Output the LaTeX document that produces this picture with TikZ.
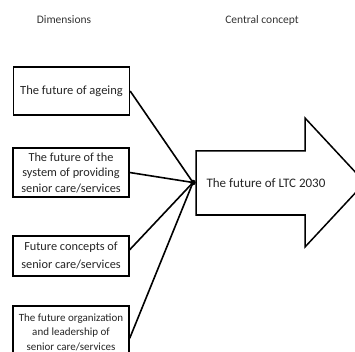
\documentclass[tikz,border=0pt]{standalone}
\usepackage{fontspec}
\setmainfont{Carlito}
\usetikzlibrary{calc}
\tikzset{
  dimbox/.style={draw=black, line width=1.3pt, fill=white, minimum width=116pt, align=center, inner sep=1pt, text=black!85},
  link/.style={draw=black, line width=1.6pt},
  heading/.style={text=black!80, font=\fontsize{11.5}{13}\selectfont},
}
\begin{document}
\begin{tikzpicture}[x=1pt,y=-1pt]
\useasboundingbox (0,0) rectangle (355,352);
\clip (0,0) rectangle (355,352);
\node[heading] (h1) at (64,20) {Dimensions};
\node[heading] (h2) at (262,20) {Central concept};

\node[dimbox, minimum height=48pt, font=\fontsize{12.5}{14}\selectfont] (b1) at (71.5,91) {The future of ageing};
\node[dimbox, minimum height=49pt, font=\fontsize{12.3}{15.5}\selectfont] (b2) at (71,172.5) {The future of the\\system of providing\\senior care/services};
\node[dimbox, minimum height=40pt, font=\fontsize{12.3}{18}\selectfont] (b3) at (71,256) {Future concepts of\\senior care/services};
\node[dimbox, minimum height=52pt, font=\fontsize{11}{14.5}\selectfont] (b4) at (71,332) {The future organization\\and leadership of\\senior care/services};

\draw[line width=1.5pt, fill=white] (196,151) -- (305,151) -- (305,118) -- (365,182.5) -- (305,247) -- (305,215) -- (196,215) -- cycle;
\node[text=black!85, font=\fontsize{13}{15}\selectfont] (ltc) at (266,183) {The future of LTC 2030};

\coordinate (hub) at (193,182.5);
\fill (hub) circle (2.8pt);
\draw[link] ($(b1.north east)!0.5!(b1.south east)$) -- (hub);
\draw[link] (b2.east) -- (hub);
\draw[link] ($(b3.north east)!0.35!(b3.south east)$) -- (hub);
\draw[link] ($(b4.north east)!0.62!(b4.south east)$) -- (hub);
\end{tikzpicture}
\end{document}
